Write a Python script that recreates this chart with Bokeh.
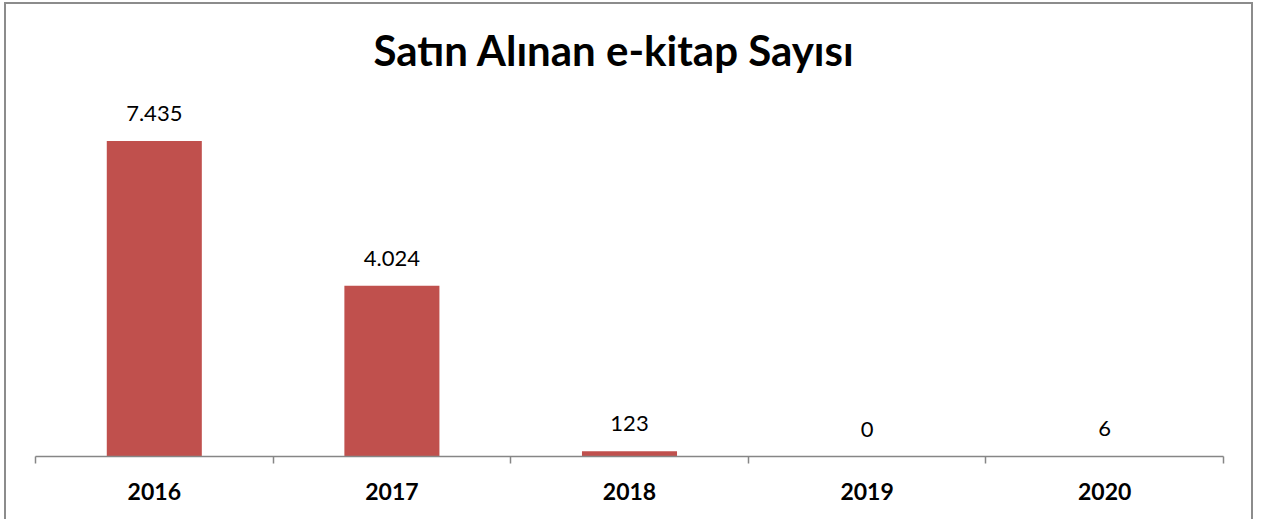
from bokeh.plotting import figure
from bokeh.models import ColumnDataSource, LabelSet, FixedTicker, Range1d
from bokeh.core.properties import value
from bokeh.embed import file_html
from bokeh.resources import INLINE

years = ["2016", "2017", "2018", "2019", "2020"]
values = [7435, 4024, 123, 0, 6]
labels = ["7.435", "4.024", "123", "0", "6"]

xs = [i + 0.5 for i in range(len(years))]
src = ColumnDataSource(dict(x=xs, top=values, lab=labels))

p = figure(width=1249, height=517, output_backend="svg", toolbar_location=None,
           x_range=Range1d(0, len(years)), y_range=Range1d(0, 8557),
           min_border_left=29, min_border_right=32, min_border_top=86,
           min_border_bottom=65, background_fill_color="white",
           border_fill_color="white", outline_line_color=None)

p.styles = {"border-top": "2px solid #8c8c8c", "border-left": "2px solid #8c8c8c",
            "border-right": "2px solid #8c8c8c", "margin-left": "4px",
            "margin-top": "2px", "box-sizing": "border-box"}

p.title.text = "Satın Alınan e-kitap Sayısı"
p.title.align = "left"
p.title.offset = 338
p.title.text_font = "Lato"
p.title.text_font_style = "bold"
p.title.text_font_size = "42px"
p.title.text_color = "black"
p.title.standoff = 37

p.vbar(x="x", top="top", width=0.4, source=src, fill_color="#C0504D",
       line_color=None)

p.add_layout(LabelSet(x="x", y="top", text="lab", source=src, y_offset=20,
                      text_align="center", text_baseline="alphabetic",
                      text_font=value("Lato"), text_font_size=value("22px"),
                      text_color="black"))

p.xgrid.visible = False
p.ygrid.visible = False
p.yaxis.visible = False

ax = p.xaxis[0]
ax.ticker = FixedTicker(ticks=xs, minor_ticks=list(range(len(years) + 1)))
ax.major_label_overrides = {x: y for x, y in zip(xs, years)}
ax.major_tick_line_color = None
ax.major_tick_out = 0
ax.major_tick_in = 0
ax.minor_tick_line_color = "#868686"
ax.minor_tick_out = 7
ax.minor_tick_in = 0
ax.axis_line_color = "#868686"
ax.axis_line_width = 1.5
ax.minor_tick_line_width = 1.5
ax.major_label_text_font = "Lato"
ax.major_label_text_font_style = "bold"
ax.major_label_text_font_size = "23px"
ax.major_label_text_color = "black"
ax.major_label_standoff = 19

open("out.html", "w").write(file_html(p, INLINE))
